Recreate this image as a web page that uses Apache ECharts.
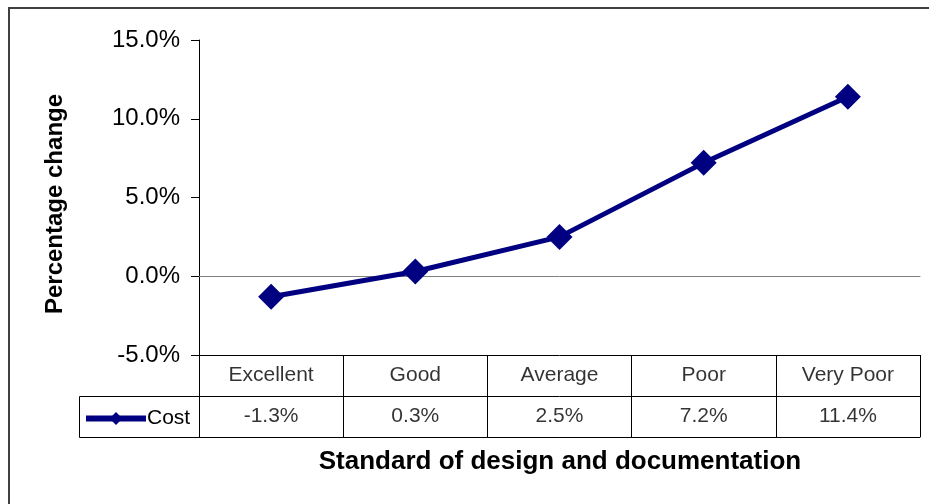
<!DOCTYPE html>
<html>
<head>
<meta charset="utf-8">
<script src="https://cdn.jsdelivr.net/npm/echarts@6/dist/echarts.min.js"></script>
<style>
html,body{margin:0;padding:0;background:#fff;}
#chart{width:929px;height:504px;}
</style>
</head>
<body>
<div id="chart"></div>
<script>
var categories = ['Excellent', 'Good', 'Average', 'Poor', 'Very Poor'];
var costValues = [-1.3, 0.3, 2.5, 7.2, 11.4];
var yTicks = { min: -5, max: 15, interval: 5 };
var seriesName = 'Cost';
var xTitle = 'Standard of design and documentation';
var yTitle = 'Percentage change';

var FONT = "'Liberation Sans', Arial, sans-serif";
var fmtPct = function (v) { return v.toFixed(1) + '%'; };

var tableRows = ['value', 'name'];
var nameCells = categories.map(function (c) { return [c, 'name', c]; });
var valueCells = categories.map(function (c, i) { return [c, 'value', fmtPct(costValues[i])]; });

var chart = echarts.init(document.getElementById('chart'));
chart.setOption({
  animation: false,
  backgroundColor: '#fff',
  textStyle: { fontFamily: FONT },
  grid: [
    { left: 199, top: 40, width: 721, height: 315 },
    { left: 199, top: 355, width: 721, height: 82 }
  ],
  xAxis: [
    {
      type: 'category', gridIndex: 0, data: categories, boundaryGap: true,
      axisLine: { show: true, onZero: true, lineStyle: { color: '#808080', width: 1 } },
      axisTick: { show: false }, axisLabel: { show: false }, splitLine: { show: false }
    },
    {
      type: 'category', gridIndex: 1, data: categories, boundaryGap: true,
      axisLine: { show: true, lineStyle: { color: '#000', width: 1 } },
      axisTick: { show: false }, axisLabel: { show: false },
      splitLine: { show: true, lineStyle: { color: '#000', width: 1 } }
    }
  ],
  yAxis: [
    {
      type: 'value', gridIndex: 0, min: yTicks.min, max: yTicks.max, interval: yTicks.interval,
      axisLine: { show: true, lineStyle: { color: '#000', width: 1 } },
      axisTick: { show: true, length: 8, lineStyle: { color: '#000' } },
      splitLine: { show: false },
      axisLabel: { formatter: fmtPct, fontSize: 24, color: '#000', margin: 19, fontFamily: FONT }
    },
    {
      type: 'category', gridIndex: 1, data: tableRows, boundaryGap: true,
      axisLine: { show: true, lineStyle: { color: '#000', width: 1 } },
      axisTick: { show: false }, axisLabel: { show: false },
      splitLine: { show: true, lineStyle: { color: '#000', width: 1 } }
    }
  ],
  legend: {
    data: [seriesName], left: 83, top: 408, itemWidth: 60, itemHeight: 16, itemGap: 0,
    padding: 0,
    lineStyle: { width: 6 },
    textStyle: { fontSize: 21, color: '#000', fontFamily: FONT, padding: [0, 0, 0, -4] }
  },
  series: [
    {
      name: seriesName, type: 'line', xAxisIndex: 0, yAxisIndex: 0, data: costValues,
      lineStyle: { color: '#000080', width: 5 },
      itemStyle: { color: '#000080' },
      symbol: 'diamond', symbolSize: 26, showAllSymbol: true
    },
    {
      type: 'scatter', xAxisIndex: 1, yAxisIndex: 1, data: nameCells, symbolSize: 1,
      itemStyle: { color: 'rgba(0,0,0,0)' }, silent: true,
      label: { show: true, position: 'inside', color: '#000', fontSize: 21, fontFamily: FONT,
        formatter: function (p) { return p.value[2]; } }
    },
    {
      type: 'scatter', xAxisIndex: 1, yAxisIndex: 1, data: valueCells, symbolSize: 1,
      itemStyle: { color: 'rgba(0,0,0,0)' }, silent: true,
      label: { show: true, position: 'inside', color: '#000', fontSize: 21, fontFamily: FONT,
        formatter: function (p) { return p.value[2]; } }
    }
  ],
  graphic: [
    { type: 'rect', silent: true, shape: { x: 9, y: 8, width: 1000, height: 1000 },
      style: { fill: 'none', stroke: '#404040', lineWidth: 2 } },
    { type: 'rect', silent: true, shape: { x: 79.5, y: 396.5, width: 120, height: 41 },
      style: { fill: 'none', stroke: '#000', lineWidth: 1 } },
    { type: 'text', silent: true, x: 55, y: 204, rotation: Math.PI / 2,
      style: { text: yTitle, x: 0, y: 0, align: 'center', verticalAlign: 'middle',
        font: 'bold 24px ' + FONT, fill: '#000' } },
    { type: 'text', silent: true, x: 560, y: 462,
      style: { text: xTitle, x: 0, y: 0, align: 'center', verticalAlign: 'middle',
        font: 'bold 26px ' + FONT, fill: '#000' } }
  ]
});
</script>
</body>
</html>
